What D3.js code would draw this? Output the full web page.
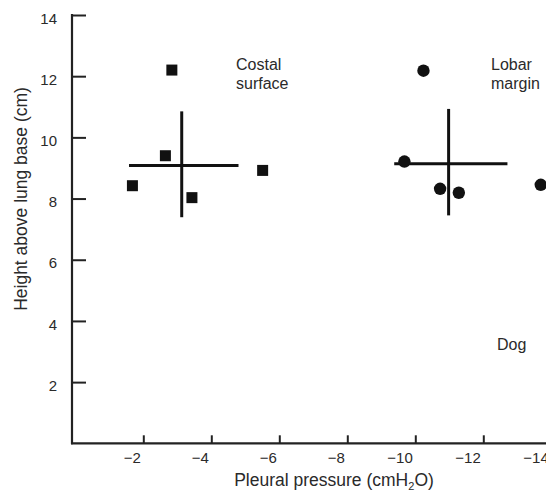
<!DOCTYPE html>
<html>
<head>
<meta charset="utf-8">
<script src="https://cdn.jsdelivr.net/npm/d3@7"></script>
<style>
  html, body { margin: 0; padding: 0; background: #fff; }
  svg text { font-family: "Liberation Sans", Arial, Helvetica, sans-serif; fill: #2a2a2a; }
</style>
</head>
<body>
<svg id="chart" width="546" height="491"></svg>
<script>
// ---- data ----
const costalX = [-2.84, -2.65, -1.68, -3.43, -5.51];
const costalY = [12.2, 9.4, 8.42, 8.03, 8.92];
const lobarX = [-10.24, -9.68, -10.73, -11.28, -13.69];
const lobarY = [12.18, 9.21, 8.32, 8.19, 8.45];
// mean crosses: centre, horizontal extent, vertical extent
const crossCentreX = [-3.13, -10.98];
const crossCentreY = [9.08, 9.14];
const crossXFrom = [-1.58, -9.38];
const crossXTo = [-4.8, -12.71];
const crossYFrom = [10.85, 10.93];
const crossYTo = [7.39, 7.45];
const xTicks = [-2, -4, -6, -8, -10, -12, -14];
const yTicks = [2, 4, 6, 8, 10, 12, 14];

const svg = d3.select("#chart");
const x = d3.scaleLinear().domain([0, -14]).range([75.3, 551.3]);
const y = d3.scaleLinear().domain([0, 14]).range([443.3, 15]);
const axisX0 = 72;

// axes
const gy = svg.append("g").attr("transform", `translate(${axisX0},0)`)
  .call(d3.axisLeft(y).tickValues(yTicks).tickSize(-14).tickSizeOuter(0));
gy.select(".domain").remove();
gy.selectAll(".tick line").attr("stroke", "#222").attr("stroke-width", 2);
gy.selectAll(".tick text").attr("font-size", 15).attr("dy", "0.55em").attr("x", -15);

const gx = svg.append("g").attr("transform", `translate(0,${y(0)})`)
  .call(d3.axisBottom(x).tickValues(xTicks).tickSize(-8).tickSizeOuter(0)
    .tickFormat(d => "\u2212" + Math.abs(d)));
gx.select(".domain").remove();
gx.selectAll(".tick line").attr("stroke", "#222").attr("stroke-width", 2);
gx.selectAll(".tick text").attr("font-size", 15).attr("text-anchor", "end")
  .attr("x", -3).attr("y", 20).attr("dy", 0);

// axis lines
svg.append("line").attr("x1", axisX0).attr("x2", axisX0).attr("y1", y(14) - 1).attr("y2", y(0) + 1)
  .attr("stroke", "#222").attr("stroke-width", 2.2);
svg.append("line").attr("x1", axisX0 - 1).attr("x2", 546).attr("y1", y(0)).attr("y2", y(0))
  .attr("stroke", "#222").attr("stroke-width", 2.2);

// titles
svg.append("text").attr("x", 334).attr("y", 486).attr("text-anchor", "middle").attr("font-size", 17.5)
  .html('Pleural pressure (cmH<tspan font-size="11" dy="4">2</tspan><tspan dy="-4">O)</tspan>');
svg.append("text").attr("transform", "translate(27,199) rotate(-90)").attr("text-anchor", "middle")
  .attr("font-size", 17.5).text("Height above lung base (cm)");

// crosses
const crosses = d3.range(crossCentreX.length);
svg.append("g").selectAll("line.h").data(crosses).join("line")
  .attr("x1", i => x(crossXFrom[i])).attr("x2", i => x(crossXTo[i]))
  .attr("y1", i => y(crossCentreY[i])).attr("y2", i => y(crossCentreY[i]))
  .attr("stroke", "#111").attr("stroke-width", 3);
svg.append("g").selectAll("line.v").data(crosses).join("line")
  .attr("x1", i => x(crossCentreX[i])).attr("x2", i => x(crossCentreX[i]))
  .attr("y1", i => y(crossYFrom[i])).attr("y2", i => y(crossYTo[i]))
  .attr("stroke", "#111").attr("stroke-width", 3);

// squares
const sq = 11;
svg.append("g").selectAll("rect").data(d3.range(costalX.length)).join("rect")
  .attr("x", i => x(costalX[i]) - sq / 2).attr("y", i => y(costalY[i]) - sq / 2)
  .attr("width", sq).attr("height", sq).attr("fill", "#111");

// circles
svg.append("g").selectAll("circle").data(d3.range(lobarX.length)).join("circle")
  .attr("cx", i => x(lobarX[i])).attr("cy", i => y(lobarY[i])).attr("r", 6.2).attr("fill", "#111");

// annotations
const ann = svg.append("g").attr("font-size", 16);
ann.append("text").attr("x", 236).attr("y", 70).text("Costal");
ann.append("text").attr("x", 236).attr("y", 89).text("surface");
ann.append("text").attr("x", 491).attr("y", 70).text("Lobar");
ann.append("text").attr("x", 491).attr("y", 89).text("margin");
ann.append("text").attr("x", 497).attr("y", 350).text("Dog");
</script>
</body>
</html>
